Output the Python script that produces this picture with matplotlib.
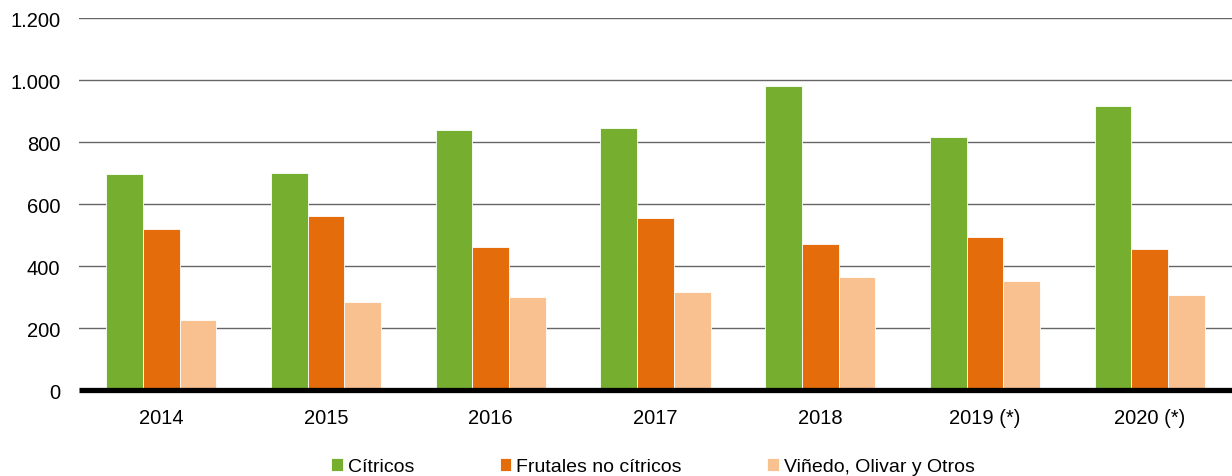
import numpy as np
import matplotlib.pyplot as plt
import matplotlib.ticker as mticker

years = ["2014", "2015", "2016", "2017", "2018", "2019 (*)", "2020 (*)"]
citricos = [697, 700, 839, 845, 981, 816, 916]
frutales = [519, 562, 461, 555, 470, 494, 455]
vinedo = [227, 284, 300, 315, 366, 352, 306]

series = [
    ("Cítricos", citricos, "#76AF30"),
    ("Frutales no cítricos", frutales, "#E46C0A"),
    ("Viñedo, Olivar y Otros", vinedo, "#F9C090"),
]

plt.rcParams["font.family"] = ["Liberation Sans", "DejaVu Sans"]

fig = plt.figure(figsize=(12.32, 4.77), dpi=100)
ax = fig.add_axes([0.0641, 0.180, 0.9359, 0.780])

x = np.arange(len(years))
w = 0.223
for i, (label, vals, col) in enumerate(series):
    ax.bar(x + (i - 1) * w, vals, width=w, color=col, label=label,
           edgecolor="white", linewidth=0.6, zorder=3)

ax.set_xlim(-0.5, len(years) - 0.5)
ax.set_ylim(0, 1200)
ax.set_yticks(range(0, 1201, 200))
ax.yaxis.set_major_formatter(mticker.FuncFormatter(lambda v, p: f"{int(v):,}".replace(",", ".")))
ax.grid(axis="y", color="#666666", linewidth=1.0, zorder=0)
# thick zero line, drawn unclipped so it is not halved at the axes edge
ax.plot([-0.5, len(years) - 0.5], [0, 0], color="black", linewidth=3.8,
        solid_capstyle="butt", zorder=4, clip_on=False)

ax.set_xticks(x)
ax.set_xticklabels(years)
ax.tick_params(axis="both", length=0, labelsize=14.5, colors="#000000")
ax.tick_params(axis="y", pad=13.5)
ax.tick_params(axis="x", pad=13)
for sp in ax.spines.values():
    sp.set_visible(False)

handles, labels = ax.get_legend_handles_labels()
fig.legend(handles, labels, loc="center", bbox_to_anchor=(0.530, 0.019), ncol=3,
           frameon=False, handlelength=0.6, handleheight=0.6, handletextpad=0.25,
           columnspacing=4.4, prop={"size": 14})

fig.savefig("out.png", dpi=100)
